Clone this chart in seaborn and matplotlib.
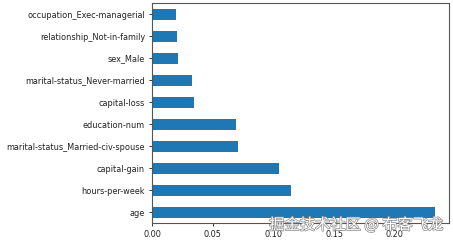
import matplotlib
matplotlib.use("Agg")
import matplotlib.pyplot as plt
import matplotlib.patheffects as pe
import seaborn as sns
import pandas as pd

features = [
    "occupation_Exec-managerial",
    "relationship_Not-in-family",
    "sex_Male",
    "marital-status_Never-married",
    "capital-loss",
    "education-num",
    "marital-status_Married-civ-spouse",
    "capital-gain",
    "hours-per-week",
    "age",
]
importances = [0.0198, 0.0206, 0.0214, 0.0329, 0.0346, 0.0689, 0.0705, 0.1045, 0.1144, 0.2329]
xticks = [0.00, 0.05, 0.10, 0.15, 0.20]

df = pd.DataFrame({"feature": features, "importance": importances})

fig = plt.figure(figsize=(4.53, 2.41), dpi=100)
ax = fig.add_axes([152 / 453, 1 - 223 / 241, (449 - 152) / 453, (223 - 3) / 241])

sns.barplot(data=df, x="importance", y="feature", orient="h", color="#1f77b4",
            saturation=1, width=0.5, ax=ax, order=features)

ax.set_xlabel("")
ax.set_ylabel("")
ax.set_xlim(0, max(importances) * 1.05)
ax.set_xticks(xticks)
ax.set_xticklabels([f"{t:.2f}" for t in xticks])
ax.tick_params(labelsize=5.9, length=2.5, width=0.7, pad=2.5, colors="#333333", labelcolor="#222222")
for s in ax.spines.values():
    s.set_linewidth(0.8)
    s.set_color("#555555")

fig.text(443 / 453, 1 - 225 / 241, "掘金技术社区 @ 布客飞龙", ha="right", va="center",
         fontsize=11, color="white", family=["Noto Sans CJK SC", "DejaVu Sans"],
         path_effects=[pe.withStroke(linewidth=1.0, foreground="#8a8a8a")])

fig.savefig("out.png", dpi=100)
